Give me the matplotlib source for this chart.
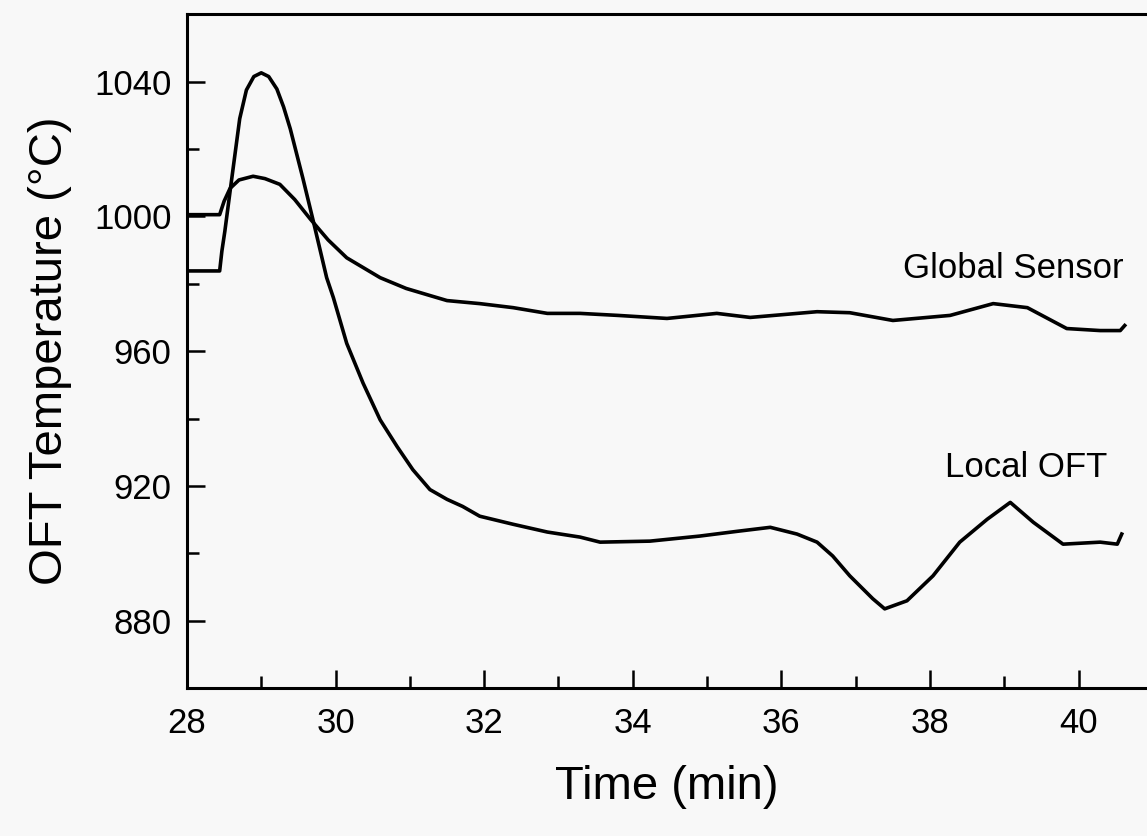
import matplotlib
matplotlib.use("Agg")
import matplotlib.pyplot as plt
from matplotlib.ticker import MultipleLocator

plt.rcParams['font.family'] = ['Liberation Sans', 'DejaVu Sans']

# global sensor trace (min, degC)
global_t = [28.04, 28.44, 28.50, 28.58, 28.70, 28.89, 29.05, 29.25, 29.45, 29.66,
            29.90, 30.15, 30.60, 30.95, 31.27, 31.50, 31.94, 32.39, 32.85, 33.29,
            33.80, 34.46, 35.13, 35.58, 36.48, 36.92, 37.50, 38.27, 38.85, 39.31,
            39.84, 40.29, 40.56, 40.62]
global_temp = [1000.5, 1000.5, 1004.5, 1008.3, 1010.8, 1011.9, 1011.2, 1009.5, 1005.0, 999.2,
               993.0, 987.7, 981.8, 978.6, 976.5, 975.0, 974.1, 972.9, 971.2, 971.2,
               970.6, 969.7, 971.2, 970.0, 971.7, 971.4, 969.1, 970.6, 974.1, 972.9,
               966.7, 966.1, 966.1, 967.6]

# local OFT trace
local_t = [28.04, 28.44, 28.47, 28.51, 28.58, 28.71, 28.80, 28.90, 29.00, 29.10,
           29.21, 29.30, 29.39, 29.56, 29.70, 29.88, 29.97, 30.15, 30.37, 30.60,
           30.83, 31.04, 31.27, 31.50, 31.71, 31.94, 32.39, 32.85, 33.29, 33.56,
           34.23, 34.90, 35.40, 35.85, 36.21, 36.48, 36.69, 36.92, 37.23, 37.39,
           37.69, 38.04, 38.40, 38.77, 39.08, 39.39, 39.79, 40.29, 40.52, 40.58]
local_temp = [983.8, 983.8, 989.7, 995.6, 1007.4, 1029.0, 1037.5, 1041.5, 1042.6, 1041.5,
              1037.8, 1032.5, 1026.0, 1011.3, 998.6, 981.8, 975.9, 962.3, 950.5, 939.6,
              931.6, 924.8, 918.9, 916.0, 913.9, 911.0, 908.6, 906.3, 904.8, 903.3,
              903.6, 905.1, 906.5, 907.7, 905.7, 903.3, 899.2, 893.3, 886.5, 883.5,
              885.9, 893.3, 903.3, 910.1, 915.1, 909.2, 902.7, 903.3, 902.7, 905.7]

bg = '#f8f8f8'
fig = plt.figure(figsize=(11.47, 8.36), dpi=100, facecolor=bg)
ax = fig.add_axes([0.163, 0.177, 0.837, 0.806], facecolor=bg)

ax.plot(global_t, global_temp, color='black', lw=2.6)
ax.plot(local_t, local_temp, color='black', lw=2.6)

ax.set_xlim(28, 40.92)
ax.set_ylim(860, 1060)

ax.xaxis.set_major_locator(MultipleLocator(2))
ax.xaxis.set_minor_locator(MultipleLocator(1))
ax.yaxis.set_major_locator(MultipleLocator(40))
ax.yaxis.set_minor_locator(MultipleLocator(20))

ax.spines['right'].set_visible(False)
for s in ['left', 'bottom', 'top']:
    ax.spines[s].set_linewidth(2.2)

ax.tick_params(which='both', direction='in', top=False, right=False, width=1.8)
ax.tick_params(which='major', length=13, labelsize=25)
ax.tick_params(which='minor', length=8.5)
ax.tick_params(axis='x', which='major', pad=14)
ax.tick_params(axis='y', which='major', pad=11)

ax.set_xlabel('Time (min)', fontsize=34, labelpad=18)
ax.set_ylabel('OFT Temperature (°C)', fontsize=34, labelpad=16)

ax.text(40.60, 981.8, 'Global Sensor', fontsize=25, ha='right', va='baseline')
ax.text(40.38, 922.5, 'Local OFT', fontsize=25, ha='right', va='baseline')

fig.savefig('out.png', dpi=100, facecolor=bg)
